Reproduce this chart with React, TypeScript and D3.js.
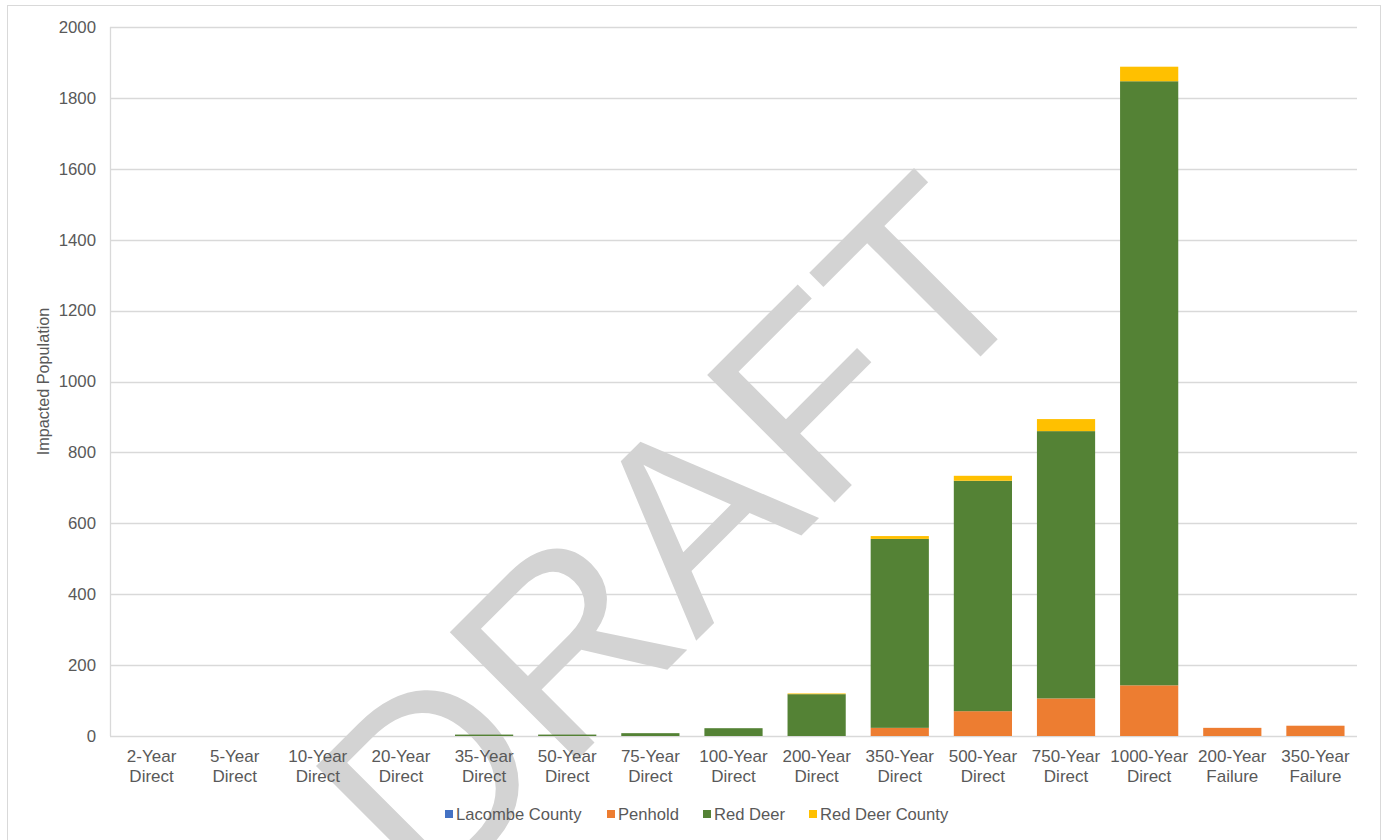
import React from "react";
import * as d3 from "d3";

const categories = [
  "2-Year Direct", "5-Year Direct", "10-Year Direct", "20-Year Direct", "35-Year Direct",
  "50-Year Direct", "75-Year Direct", "100-Year Direct", "200-Year Direct", "350-Year Direct",
  "500-Year Direct", "750-Year Direct", "1000-Year Direct", "200-Year Failure", "350-Year Failure",
];
const seriesNames = ["Lacombe County", "Penhold", "Red Deer", "Red Deer County"];
const lacombeCounty = [0, 0, 0, 0, 0, 0, 0, 0, 0, 0, 0, 0, 0, 0, 0];
const penhold = [0, 0, 0, 0, 0, 0, 0, 0, 0, 23, 70, 106, 143, 23, 29];
const redDeer = [0, 0, 0, 0, 4, 4, 8, 22, 118, 533, 650, 754, 1704, 0, 0];
const redDeerCounty = [0, 0, 0, 0, 0, 0, 0, 0, 2, 8, 14, 34, 41, 0, 0];
const yTicks = [0, 200, 400, 600, 800, 1000, 1200, 1400, 1600, 1800, 2000];
const colors = ["#4472C4", "#ED7D31", "#548235", "#FFC000"];

const W = 1387, H = 840;
const M = { left: 110, right: 1357, top: 27, bottom: 736 };
const FONT = "'Liberation Sans', Arial, sans-serif";

export default function App() {
  const x = d3.scaleBand<string>().domain(categories).range([M.left, M.right]).paddingInner(0.3).paddingOuter(0.15);
  const y = d3.scaleLinear().domain([0, 2000]).range([M.bottom, M.top]);
  const table = categories.map((c, i) => ({
    cat: c,
    "Lacombe County": lacombeCounty[i],
    Penhold: penhold[i],
    "Red Deer": redDeer[i],
    "Red Deer County": redDeerCounty[i],
  }));
  const stacked = d3.stack<any>().keys(seriesNames)(table);

  const legendX = [445, 607, 703, 809];

  return (
    <svg width={W} height={H} style={{ position: "absolute", left: 0, top: 0, background: "#fff" }} fontFamily={FONT}>
      <rect x={7.5} y={5.5} width={1373} height={H + 10} fill="#fff" stroke="#D9D9D9" />
      {yTicks.map((t) => (
        <g key={t}>
          <line x1={M.left} x2={M.right} y1={Math.round(y(t)) + 0.5} y2={Math.round(y(t)) + 0.5} stroke="#D9D9D9" strokeWidth={1.3} />
          <text x={96} y={y(t)} dy="0.35em" textAnchor="end" fontSize={16.8} fill="#595959">{t}</text>
        </g>
      ))}
      <line x1={M.left + 0.5} x2={M.left + 0.5} y1={M.top} y2={M.bottom} stroke="#D9D9D9" strokeWidth={1.3} />
      <text transform={`translate(49,${(M.top + M.bottom) / 2}) rotate(-90)`} textAnchor="middle" fontSize={16.2} fill="#595959">Impacted Population</text>
      <text x={737} y={600} textAnchor="middle" fontSize={262} fill="#D3D3D3" transform="rotate(-45 737 600)" fontFamily={FONT}>DRAFT</text>
      {stacked.map((s, si) => (
        <g key={si} fill={colors[si]}>
          {s.map((d, i) => {
            const h = y(d[0]) - y(d[1]);
            if (h <= 0) return null;
            return <rect key={i} x={x(categories[i])} y={y(d[1])} width={x.bandwidth()} height={h} />;
          })}
        </g>
      ))}
      {categories.map((c) => {
        const [a, b] = c.split(" ");
        const cx = (x(c) as number) + x.bandwidth() / 2;
        return (
          <text key={c} x={cx} textAnchor="middle" fontSize={17} fill="#595959">
            <tspan x={cx} y={762}>{a}</tspan>
            <tspan x={cx} y={782}>{b}</tspan>
          </text>
        );
      })}
      {seriesNames.map((n, i) => (
        <g key={n}>
          <rect x={legendX[i]} y={810} width={8} height={8} fill={colors[i]} />
          <text x={legendX[i] + 11} y={820} fontSize={16.6} fill="#595959">{n}</text>
        </g>
      ))}
    </svg>
  );
}
